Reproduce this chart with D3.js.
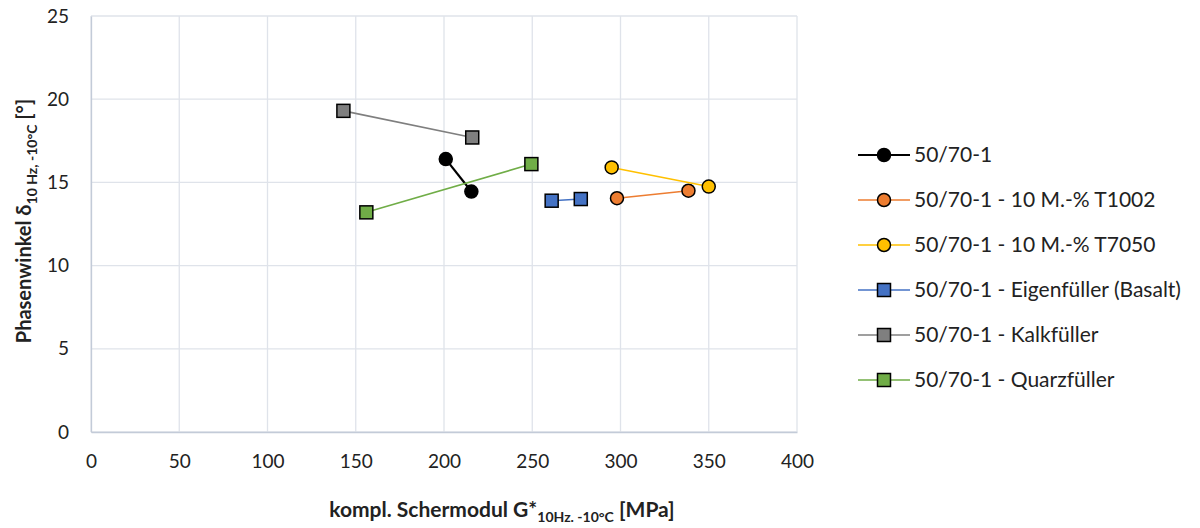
<!DOCTYPE html>
<html>
<head>
<meta charset="utf-8">
<script src="https://cdn.jsdelivr.net/npm/d3@7"></script>
<style>
  html, body { margin: 0; padding: 0; background: #fff; }
  svg { display: block; font-family: Lato, "Open Sans", sans-serif; }
</style>
</head>
<body>
<svg id="chart" width="1200" height="528"></svg>
<script>
// Series names (legend order)
const seriesNames = [
  "50/70-1",
  "50/70-1 - 10 M.-% T1002",
  "50/70-1 - 10 M.-% T7050",
  "50/70-1 - Eigenfüller (Basalt)",
  "50/70-1 - Kalkfüller",
  "50/70-1 - Quarzfüller"
];
// Complex shear modulus G* [MPa] per series
const gValues = [
  [201, 215.5],
  [298, 338.5],
  [295, 350],
  [261, 277.5],
  [143, 216],
  [156, 249.5]
];
// Phase angle δ [°] per series
const deltaValues = [
  [16.4, 14.45],
  [14.05, 14.5],
  [15.9, 14.75],
  [13.9, 14.0],
  [19.3, 17.7],
  [13.2, 16.1]
];
const seriesColors = ["#000000", "#ED7D31", "#FFC000", "#4472C4", "#7F7F7F", "#70AD47"];
const seriesMarkers = ["circle", "circle", "circle", "square", "square", "square"];
const xTicks = [0, 50, 100, 150, 200, 250, 300, 350, 400];
const yTicks = [0, 5, 10, 15, 20, 25];

const svg = d3.select("#chart");
const plot = { left: 91, right: 797, top: 16, bottom: 432 };

const x = d3.scaleLinear().domain([0, 400]).range([plot.left, plot.right]);
const y = d3.scaleLinear().domain([0, 25]).range([plot.bottom, plot.top]);

// Grid lines
const grid = svg.append("g");
grid.selectAll(".vg").data(xTicks).enter().append("line")
  .attr("x1", d => x(d)).attr("x2", d => x(d))
  .attr("y1", plot.top).attr("y2", plot.bottom)
  .attr("stroke", "#dfe3ea").attr("stroke-width", 1.3);
grid.selectAll(".hg").data(yTicks).enter().append("line")
  .attr("x1", plot.left).attr("x2", plot.right)
  .attr("y1", d => y(d)).attr("y2", d => y(d))
  .attr("stroke", "#dfe3ea").attr("stroke-width", 1.3);

// Axes
const xAxis = svg.append("g").attr("transform", `translate(0,${plot.bottom})`)
  .call(d3.axisBottom(x).tickValues(xTicks).tickSize(0).tickPadding(22));
const yAxis = svg.append("g").attr("transform", `translate(${plot.left},0)`)
  .call(d3.axisLeft(y).tickValues(yTicks).tickSize(0).tickPadding(22));
[xAxis, yAxis].forEach(a => {
  a.select(".domain").attr("stroke", "#c3cbd8").attr("stroke-width", 1.3);
  a.selectAll("text").attr("font-family", "Lato, sans-serif").attr("font-size", 19).attr("fill", "#222");
});
xAxis.selectAll("text").attr("dy", "0.75em").attr("y", 22);

// Axis titles
const xt = svg.append("text").attr("x", 502).attr("y", 517).attr("text-anchor", "middle")
  .attr("font-weight", "bold").attr("font-size", 21).attr("fill", "#222");
xt.append("tspan").text("kompl. Schermodul G*");
xt.append("tspan").attr("font-size", 14).attr("dy", 5).text("10Hz. -10°C");
xt.append("tspan").attr("dy", -5).text(" [MPa]");

const yt = svg.append("text").attr("transform", "translate(31,221) rotate(-90)")
  .attr("text-anchor", "middle").attr("font-weight", "bold").attr("font-size", 20).attr("fill", "#222");
yt.append("tspan").text("Phasenwinkel  δ");
yt.append("tspan").attr("font-size", 14).attr("dy", 6).text("10 Hz, -10°C");
yt.append("tspan").attr("dy", -6).text(" [°]");

// Marker drawing helper
function drawMarker(g, shape, cx, cy, fill) {
  if (shape === "circle") {
    g.append("circle").attr("cx", cx).attr("cy", cy).attr("r", 6.5)
      .attr("fill", fill).attr("stroke", "#000").attr("stroke-width", 1.5);
  } else {
    g.append("rect").attr("x", cx - 6.5).attr("y", cy - 6.5).attr("width", 13).attr("height", 13)
      .attr("fill", fill).attr("stroke", "#000").attr("stroke-width", 1.5);
  }
}

// Series lines and markers
const line = d3.line().x(d => x(d[0])).y(d => y(d[1]));
seriesNames.forEach((name, i) => {
  const pts = gValues[i].map((g, j) => [g, deltaValues[i][j]]);
  const g = svg.append("g");
  g.append("path").attr("d", line(pts)).attr("fill", "none")
    .attr("stroke", seriesColors[i]).attr("stroke-width", i === 0 ? 2.2 : 1.6);
  pts.forEach(p => drawMarker(g, seriesMarkers[i], x(p[0]), y(p[1]), seriesColors[i]));
});

// Legend
const legend = svg.append("g");
seriesNames.forEach((name, i) => {
  const ly = 155 + i * 45;
  const row = legend.append("g");
  row.append("line").attr("x1", 858).attr("x2", 910).attr("y1", ly).attr("y2", ly)
    .attr("stroke", seriesColors[i]).attr("stroke-width", i === 0 ? 2 : 1.6);
  drawMarker(row, seriesMarkers[i], 884, ly, seriesColors[i]);
  row.append("text").attr("x", 914).attr("y", ly).attr("dy", "0.35em")
    .attr("font-size", 21).attr("fill", "#222").text(name);
});
</script>
</body>
</html>
